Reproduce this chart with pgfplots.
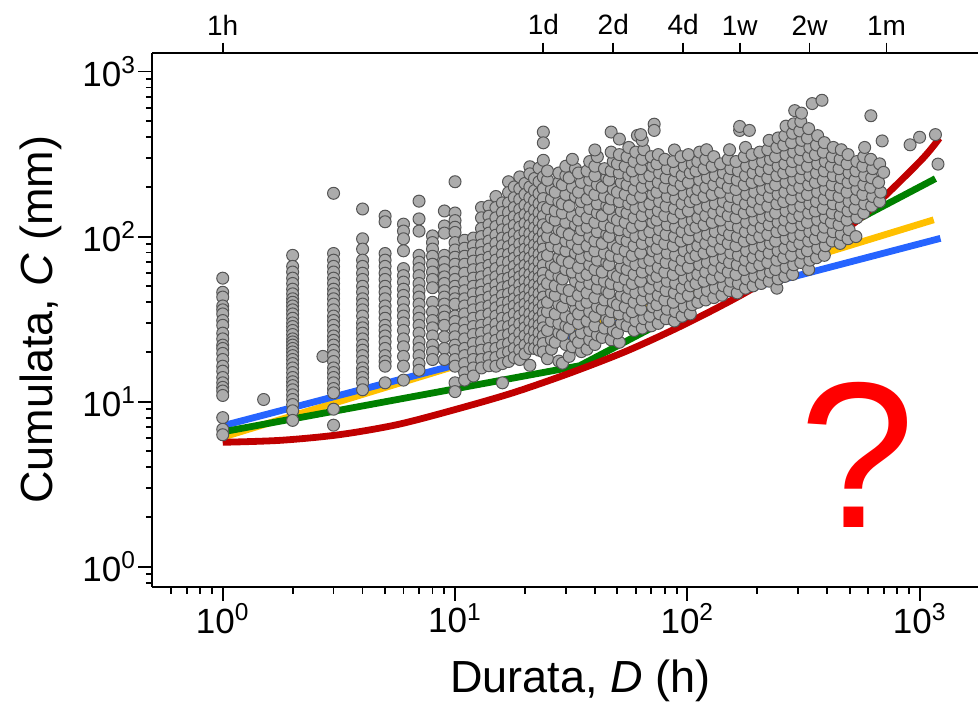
\documentclass[border=0pt]{standalone}
\usepackage{pgfplots}
\pgfplotsset{compat=1.18}
\usepackage{fontspec}
\setmainfont{Liberation Sans}
\definecolor{lblue}{RGB}{38,100,255}
\definecolor{lorange}{RGB}{255,192,0}
\definecolor{lgreen}{RGB}{0,128,0}
\definecolor{lred}{RGB}{192,0,0}
\definecolor{ptfill}{RGB}{172,172,172}
\definecolor{ptdraw}{RGB}{85,85,85}
\begin{document}
\begin{tikzpicture}
\path[use as bounding box] (-76.2pt,-57pt) rectangle (412.8pt,293.5pt);
\begin{axis}[
  at={(0,0)}, anchor=south west,
  scale only axis, width=412.8pt, height=267.2pt,
  xmode=log, ymode=log,
  xmin=0.498, xmax=1784, ymin=0.753, ymax=1303,
  axis x line*=bottom, axis y line*=left,
  axis line style={line width=1pt, -},
  tick align=outside,
  major tick length=7pt, minor tick length=3.3pt,
  every tick/.style={black, line width=0.9pt},
  xtick={1,10,100,1000},
  xticklabels={10\textsuperscript{0},10\textsuperscript{1},10\textsuperscript{2},10\textsuperscript{3}},
  minor xtick={0.6,0.7,0.8,0.9,2,3,4,5,6,7,8,9,20,30,40,50,60,70,80,90,200,300,400,500,600,700,800,900},
  ytick={1,10,100,1000},
  yticklabels={10\textsuperscript{0},10\textsuperscript{1},10\textsuperscript{2},10\textsuperscript{3}},
  minor ytick={0.8,0.9,2,3,4,5,6,7,8,9,20,30,40,50,60,70,80,90,200,300,400,500,600,700,800,900},
  ticklabel style={font=\fontsize{17.5}{17.5}\selectfont, inner sep=1pt},
  xlabel={Durata, \textit{D} (h)},
  ylabel={Cumulata, \textit{C} (mm)},
  label style={font=\fontsize{22.5}{22.5}\selectfont},
  xlabel style={at={(axis description cs:0.5,0)}, anchor=base, xshift=7.5pt, yshift=-52.5pt, inner sep=0pt},
  ylabel style={at={(axis description cs:-0.1212,0.5)}, anchor=base, inner sep=0pt},
  clip=false,
]
\addplot[only marks, mark=*, mark size=3pt, mark options={fill=ptfill, draw=ptdraw, line width=0.5pt}] coordinates {
(1,56)(1,46)(1,43)(1,38)(1,36)(1,34)(1,31)(1,29)(1,26)(1,24)(1,22)(1,21)(1,19.6)(1,18)(1,16.4)(1,15.3)(1,14)(1,13)(1,12.2)(1,11.6)(1,10.9)(1,8.0)(1,6.8)(1,6.3)
(1.5,10.3)(2.7,18.8)
(2,77)(2,66)(2,61)(2,56)(2,52)(2,48)(2,45)(2,42)(2,40)(2,38)(2,36)(2,34)(2,32)(2,30)(2,28.5)(2,27)(2,25.5)(2,24)(2,23)(2,22)(2,21)(2,20)(2,19)(2,18)(2,17)(2,16)(2,15)(2,14)(2,13.2)(2,12.5)(2,11.8)(2,11)(2,10.3)(2,9.6)(2,8.8)(2,7.7)
(3,183)(3,79)(3,72)(3,66)(3,61)(3,56)(3,52)(3,48)(3,45)(3,42)(3,39)(3,36)(3,33)(3,31)(3,29)(3,27)(3,25)(3,23.5)(3,22)(3,20.5)(3,19)(3,17.5)(3,16)(3,15)(3,14)(3,13)(3,12)(3,11.3)(3,9)(3,7.2)
(4,147)(4,97)(4,84)(4,72)(4,66)(4,60)(4,55)(4,50)(4,46)(4,42)(4,39)(4,36)(4,33)(4,30)(4,28)(4,26)(4,24)(4,22)(4,20.5)(4,19)(4,17.5)(4,16)(4,15)(4,14)(4,13)(4,11.8)
(5,133)(5,123)(5,79)(5,72)(5,66)(5,60)(5,55)(5,50)(5,46)(5,42)(5,38)(5,35)(5,32)(5,29)(5,27)(5,25)(5,23)(5,21)(5,19)(5,17.5)(5,16.4)(5,13)
(6,119)(6,108)(6,97)(6,82)(6,64)(6,58)(6,53)(6,48)(6,44)(6,40)(6,36)(6,33)(6,30)(6,27)(6,24)(6,21.5)(6,18.8)(6,16.4)(6,13.5)
(7,164)(7,128)(7,108)(7,77)(7,70)(7,64)(7,58)(7,52)(7,47)(7,43)(7,39)(7,35)(7,32)(7,29)(7,26)(7,23)(7,21)(7,19)(7,17)(7,15.5)
(8,101)(8,92)(8,84)(8,76)(8,68)(8,61)(8,55)(8,49)(8,40)(8,35)(8,31)(8,28)(8,25)(8,22)(8,20)(8,18)
(9,143)(9,116)(9,105)(9,77)(9,70)(9,63)(9,57)(9,52)(9,47)(9,43)(9,39)(9,35.5)(9,32.5)(9,29)(9,24.7)(9,21)(9,18)
(10,215)(10,139)(10,125)(10,114)(10,106)(10,92)(10,83)(10,75)(10,68)(10,61)(10,55)(10,50)(10,46)(10,42)(10,39)(10,33)(10,30.6)(10,27.5)(10,24.7)(10,22)(10,20.4)(10,18)(10,16.4)(10,13)(10,11.5)
(11,95)(11,85)(11,76)(11,68)(11,60)(11,53)(11,47)(11,42)(11,38)(11,34)(11,30)(11,27)(11,24)(11,21)(11,19)(11,17)(11,15)(11,13.5)
(12,98)(12,88)(12,79)(12,71)(12,63)(12,56)(12,50)(12,45)(12,40)(12,36)(12,32)(12,28.5)(12,25.5)(12,22.5)(12,20)(12,18)(12,16)(12,14.3)
(13,150)(13,130)(13,112)(13,100)(13,89)(13,80)(13,72)(13,64)(13,57)(13,51)(13,46)(13,41)(13,37)(13,33)(13,29)(13,26)(13,23)(13,20.5)(13,18)(13,16)
(14,153)(14,133)(14,118)(14,105)(14,94)(14,84)(14,75)(14,67)(14,60)(14,54)(14,48)(14,43)(14,38)(14,34)(14,30)(14,27)(14,24)(14,21)(14,18.5)(14,16.5)
(15,175)(15,150)(15,130)(15,115)(15,102)(15,91)(15,81)(15,72)(15,64)(15,57)(15,51)(15,46)(15,41)(15,37)(15,33)(15,29.5)(15,26.5)(15,23.5)(15,21)(15,18.5)(15,16.4)
(16,160)(16,140)(16,124)(16,110)(16,98)(16,88)(16,78)(16,70)(16,62)(16,55)(16,49)(16,44)(16,39.5)(16,35.5)(16,32)(16,28.5)(16,25)(16,22)(16,19.5)(16,17)(16,13)
(17,215)(17,185)(17,160)(17,140)(17,124)(17,110)(17,98)(17,87)(17,78)(17,70)(17,62)(17,56)(17,50)(17,45)(17,40)(17,36)(17,32)(17,28.5)(17,25.5)(17,22.5)(17,20)(17,17.5)
(18,200)(18,172)(18,150)(18,132)(18,117)(18,104)(18,93)(18,83)(18,74)(18,66)(18,59)(18,53)(18,47)(18,42)(18,38)(18,34)(18,30)(18,27)(18,24)(18,21)(18,18.5)
(19,230)(19,195)(19,168)(19,146)(19,129)(19,114)(19,101)(19,90)(19,80)(19,71)(19,63)(19,57)(19,51)(19,46)(19,41)(19,37)(19,33)(19,29.5)(19,26)(19,23)(19,20.5)(19,18)
(20,210)(20,180)(20,155)(20,136)(20,120)(20,106)(20,94)(20,84)(20,75)(20,67)(20,60)(20,54)(20,48)(20,43)(20,39)(20,35)(20,31)(20,28)(20,25)(20,22)(20,19.5)
(21,265)(21,240)(21,200)(21,172)(21,150)(21,132)(21,117)(21,104)(21,93)(21,83)(21,74)(21,66)(21,59)(21,53)(21,47.5)(21,42.5)(21,38)(21,34)(21,30.5)(21,27)(21,24)(21,21)(21,16.6)
(22,225)(22,190)(22,165)(22,144)(22,127)(22,113)(22,100)(22,89)(22,80)(22,71)(22,64)(22,57)(22,51)(22,46)(22,41)(22,37)(22,33)(22,29.5)(22,26.5)(22,23.5)(22,21)
(23,260)(23,215)(23,182)(23,158)(23,139)(23,123)(23,109)(23,97)(23,87)(23,78)(23,70)(23,62)(23,56)(23,50)(23,45)(23,40)(23,36)(23,32)(23,29)(23,26)(23,23)(23,20.5)
(24,430)(24,370)(24,290)(24,230)(24,195)(24,170)(24,150)(24,133)(24,118)(24,105)(24,94)(24,84)(24,75)(24,67)(24,60)(24,54)(24,48)(24,43)(24,38.5)(24,34.5)(24,31)(24,28)(24,25)(24,22.5)(24,20)
(25,18.2)(26,20.8)(26,23.7)(25,27)(26,30.8)(25,35.1)(25,40)(26,45.6)(25,52)(26,59)(26,67.5)(25,77)(26,88)(25,100)(25,114)(26,130)(25,148)(26,169)(26,193)(25,220)(25,250)
(28,17.6)(27,22.9)(28,26.1)(28,29.8)(27,34)(28,38.7)(27,44.1)(27,50.3)(28,57.4)(27,65.1)(28,74.5)(28,84.9)(27,97.1)(28,110)(27,126)(27,143)(28,163)(27,186)(28,213)(28,243)
(29,17.1)(30,22.2)(29,25.3)(30,28.8)(30,32.9)(29,37.5)(30,42.7)(29,48.7)(29,55.4)(30,63.2)(29,72)(30,82)(30,94)(29,107)(30,122)(29,139)(29,158)(30,180)(29,206)(30,234)(30,267)
(31,18.8)(32,21.5)(33,24.5)(31,27.9)(32,31.8)(33,36.3)(32,41.3)(31,47.1)(33,53.7)(32,61)(31,69.7)(33,79.5)(32,90.9)(31,103)(33,118)(32,134)(31,153)(33,175)(32,199)(31,227)(33,258)(32,294)
(35,20.1)(34,22.9)(35,26.1)(34,29.8)(34,34)(35,38.7)(34,44.1)(35,50.3)(35,57.4)(34,65.1)(35,74.5)(34,84.9)(34,97.1)(35,110)(34,126)(35,143)(35,163)(34,186)(35,213)(34,243)
(37,20.8)(38,23.7)(38,27)(37,30.8)(38,35.1)(37,40)(37,45.6)(38,52)(37,59)(38,67.5)(38,77)(37,88)(38,100)(37,114)(37,130)(38,148)(37,169)(38,193)(38,220)(37,250)(38,285)
(40,22.2)(41,25.3)(40,28.8)(40,32.9)(41,37.5)(40,42.7)(41,48.7)(41,55.4)(40,63.2)(41,72)(40,82)(40,94)(41,107)(40,122)(41,139)(41,158)(40,180)(41,206)(40,234)(40,267)(41,305)(40,335)
(43,24.5)(44,27.9)(45,31.8)(43,36.3)(44,41.3)(45,47.1)(44,53.7)(43,61)(45,69.7)(44,79.5)(43,90.9)(45,103)(44,118)(43,134)(45,153)(44,175)(43,199)(45,227)(44,258)
(47,23.7)(48,27)(46,30.8)(47,35.1)(48,40)(46,45.6)(47,52)(48,59)(46,67.5)(47,77)(48,88)(46,100)(47,114)(48,130)(46,148)(47,169)(48,193)(46,220)(47,250)(48,285)(47,325)(47,430)
(51,22.9)(50,26.1)(52,29.8)(51,34)(50,38.7)(52,44.1)(51,50.3)(50,57.4)(52,65.1)(51,74.5)(50,84.9)(52,97.1)(51,110)(50,126)(52,143)(51,163)(50,186)(52,213)(51,243)(50,276)(51,314)(51,390)
(55,28.8)(56,32.9)(54,37.5)(55,42.7)(56,48.7)(54,55.4)(55,63.2)(56,72)(54,82)(55,94)(56,107)(54,122)(55,139)(56,158)(54,180)(55,206)(56,234)(54,267)(55,305)(56,347)
(59,27)(60,30.8)(58,35.1)(59,40)(60,45.6)(58,52)(59,59)(60,67.5)(58,77)(59,88)(60,100)(58,114)(59,130)(60,148)(58,169)(59,193)(60,220)(58,250)(59,285)(60,325)(61,410)
(64,27.9)(65,31.8)(63,36.3)(64,41.3)(65,47.1)(63,53.7)(64,61)(65,69.7)(63,79.5)(64,90.9)(65,103)(63,118)(64,134)(65,153)(63,175)(64,199)(65,227)(63,258)(64,294)(65,336)(64,383)(63,415)
(70,28.8)(69,32.9)(71,37.5)(70,42.7)(69,48.7)(71,55.4)(70,63.2)(69,72)(71,82)(70,94)(69,107)(71,122)(70,139)(69,158)(71,180)(70,206)(69,234)(71,267)(70,305)(72,480)(72,440)
(75,29.8)(76,34)(74,38.7)(75,44.1)(76,50.3)(74,57.4)(75,65.1)(76,74.5)(74,84.9)(75,97.1)(76,110)(74,126)(75,143)(76,163)(74,186)(75,213)(76,243)(74,276)(75,314)
(81,31.8)(82,36.3)(80,41.3)(81,47.1)(82,53.7)(80,61)(81,69.7)(82,79.5)(80,90.9)(81,103)(82,118)(80,134)(81,153)(82,175)(80,199)(81,227)(82,258)(80,294)
(88,30.8)(89,35.1)(87,40)(88,45.6)(89,52)(87,59)(88,67.5)(89,77)(87,88)(88,100)(89,114)(87,130)(88,148)(89,169)(87,193)(88,220)(89,250)(87,285)(88,335)
(95,32.9)(97,37.5)(94,42.7)(95,48.7)(97,55.4)(94,63.2)(95,72)(97,82)(94,94)(95,107)(97,122)(94,139)(95,158)(97,180)(94,206)(95,234)(97,267)(94,305)
(103,34)(105,38.7)(101,44.1)(103,50.3)(105,57.4)(101,65.1)(103,74.5)(105,84.9)(101,97.1)(103,110)(105,126)(101,143)(103,163)(105,186)(101,213)(103,243)(105,276)(101,314)
(111,40)(113,45.6)(109,52)(111,59)(113,67.5)(109,77)(111,88)(113,100)(109,114)(111,130)(113,148)(109,169)(111,193)(113,220)(109,250)(111,285)(113,325)
(120,41.3)(122,47.1)(118,53.7)(120,61)(122,69.7)(118,79.5)(120,90.9)(122,103)(118,118)(120,134)(122,153)(118,175)(120,199)(122,227)(118,258)(120,294)(121,336)
(130,42.7)(132,48.7)(128,55.4)(130,63.2)(132,72)(128,82)(130,94)(132,107)(128,122)(130,139)(132,158)(128,180)(130,206)(132,234)(128,267)(130,305)
(141,44.1)(143,50.3)(139,57.4)(141,65.1)(143,74.5)(139,84.9)(141,97.1)(143,110)(139,126)(141,143)(143,163)(139,186)(141,213)(143,243)(139,276)
(152,47.1)(154,53.7)(150,61)(152,69.7)(154,79.5)(150,90.9)(152,103)(154,118)(150,134)(152,153)(154,175)(150,199)(152,227)(154,258)(150,294)(152,336)
(164,45.6)(166,52)(162,59)(164,67.5)(166,77)(162,88)(164,100)(166,114)(162,130)(164,148)(166,169)(162,193)(164,220)(166,250)(162,285)(168,440)(168,465)
(178,48.7)(180,55.4)(176,63.2)(178,72)(180,82)(176,94)(178,107)(180,122)(176,139)(178,158)(180,180)(176,206)(178,234)(180,267)(176,305)(178,347)(185,440)
(192,50.3)(195,57.4)(190,65.1)(192,74.5)(195,84.9)(190,97.1)(192,110)(195,126)(190,143)(192,163)(195,186)(190,213)(192,243)(195,276)(190,314)
(208,52)(211,59)(205,67.5)(208,77)(211,88)(205,100)(208,114)(211,130)(205,148)(208,169)(211,193)(205,220)(208,250)(211,285)(205,325)
(225,53.7)(228,61)(222,69.7)(225,79.5)(228,90.9)(222,103)(225,118)(228,134)(222,153)(225,175)(228,199)(222,227)(225,258)(228,294)(222,336)(225,383)
(243,48.7)(246,55.4)(240,63.2)(243,72)(246,82)(240,94)(243,107)(246,122)(240,139)(243,158)(246,180)(240,206)(243,234)(246,267)(240,305)(243,347)(246,396)
(263,57.4)(266,65.1)(260,74.5)(263,84.9)(266,97.1)(260,110)(263,126)(266,143)(260,163)(263,186)(266,213)(260,243)(263,276)(266,314)(260,359)(263,409)(266,467)
(284,59)(287,67.5)(281,77)(284,88)(287,100)(281,114)(284,130)(287,148)(281,169)(284,193)(287,220)(281,250)(284,285)(287,325)(281,371)(284,423)(287,482)(290,580)
(308,69.7)(311,79.5)(305,90.9)(308,103)(311,118)(305,134)(308,153)(311,175)(305,199)(308,227)(311,258)(305,294)(308,336)(311,383)(305,437)(308,498)(310,560)
(333,63.2)(337,72)(329,82)(333,94)(337,107)(329,122)(333,139)(337,158)(329,180)(333,206)(337,234)(329,267)(333,305)(337,347)(329,396)(333,451)(345,640)
(360,74.5)(364,84.9)(356,97.1)(360,110)(364,126)(356,143)(360,163)(364,186)(356,213)(360,243)(364,276)(356,314)(360,359)(364,409)(380,670)
(389,77)(393,88)(385,100)(389,114)(393,130)(385,148)(389,169)(393,193)(385,220)(389,250)(393,285)(385,325)(389,371)
(421,94)(425,107)(417,122)(421,139)(425,158)(417,180)(421,206)(425,234)(417,267)(421,305)(425,347)
(455,90.9)(460,103)(450,118)(455,134)(460,153)(450,175)(455,199)(460,227)(450,258)(455,294)(460,336)
(492,97.1)(497,110)(487,126)(492,143)(497,163)(487,186)(492,213)(497,243)(487,276)(492,314)
(532,100)(537,130)(527,148)(532,169)(537,193)(527,220)(532,250)(537,285)
(575,139)(580,158)(570,180)(575,206)(580,234)(570,267)(575,305)(580,347)
(622,153)(628,175)(616,199)(622,227)(628,258)(616,294)(617,540)
(673,163)(680,186)(666,213)(673,276)(690,380)(700,245)
(910,360)(1000,400)(1170,415)(1200,275)
};
\addplot[lorange, line width=3.4pt] coordinates {(1,6.09)(1150,126.4)};
\addplot[lblue, line width=3.4pt] coordinates {(1,7.14)(1230,97.6)};
\addplot[lgreen, line width=3.4pt] coordinates {(1,6.56)(34.4,16.5)(1170,224.5)};
\addplot[lred, line width=3.4pt, smooth] coordinates {(1,5.67)(1.778,5.83)(3.162,6.30)(5.623,7.25)(10,8.95)(17.78,11.32)(31.62,14.99)(56.23,20.57)(100,29.95)(177.8,45.7)(316.2,74.7)(562.3,131)(1000,284)(1216,394.6)};
\node[text=red, font=\fontsize{104}{104}\selectfont, inner sep=0pt] at (axis cs:537,4.75) {?};
\end{axis}
\begin{axis}[
  at={(0,0)}, anchor=south west,
  scale only axis, width=412.8pt, height=267.2pt,
  xmode=log, xmin=0.498, xmax=1784, ymin=0, ymax=1,
  axis x line*=top, axis y line=none,
  axis line style={line width=1pt, -},
  tick align=outside, major tick length=5pt,
  every tick/.style={black, line width=0.9pt},
  xtick={1,24,48,96,168,336,720},
  xticklabels={1h,1d,2d,4d,1w,2w,1m},
  xminorticks=false, ytick=\empty,
  xticklabel style={font=\fontsize{14}{14}\selectfont, inner sep=3.5pt},
]
\end{axis}
\end{tikzpicture}
\end{document}
